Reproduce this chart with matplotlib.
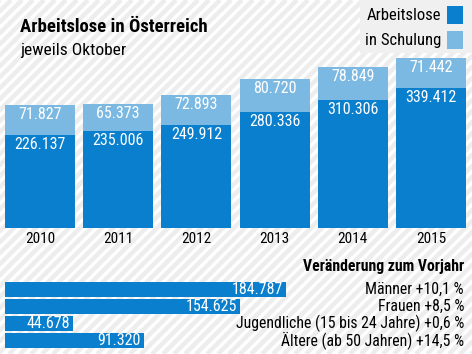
import matplotlib
matplotlib.use("Agg")
import matplotlib.pyplot as plt
import matplotlib.transforms as mtrans
from matplotlib.patches import Rectangle

# --------------------------------------------
# Daten
# --------------------------------------------
jahre = ["2010", "2011", "2012", "2013", "2014", "2015"]
arbeitslose = [226137, 235006, 249912, 280336, 310306, 339412]
schulung = [71827, 65373, 72893, 80720, 78849, 71442]

gruppen = ["Männer +10,1 %", "Frauen +8,5 %",
           "Jugendliche (15 bis 24 Jahre) +0,6 %", "Ältere (ab 50 Jahren) +14,5 %"]
gruppen_werte = [184787, 154625, 44678, 91320]

# --------------------------------------------
# Stil
# --------------------------------------------
plt.rcParams['font.family'] = ['Roboto Condensed', 'Roboto', 'DejaVu Sans']

dunkel = '#0a7fcd'
hell = '#7cb9e2'


def fmt(v):
    # Tausenderpunkt
    return f"{v:,}".replace(",", ".")


W, H = 472, 354
fig = plt.figure(figsize=(W / 100, H / 100), dpi=100)
fig.patch.set_facecolor('white')

# Hintergrund mit Streifen (Pixelkoordinaten)
bg = fig.add_axes([0, 0, 1, 1])
bg.set_axis_off()
bg.set_xlim(0, W)
bg.set_ylim(H, 0)
for s in range(-H, W + H, 11):
    bg.plot([s, s + H], [H, 0], color='#ededed', linewidth=3.2,
            solid_capstyle='butt', zorder=0)
# Legendenkasten
bg.add_patch(Rectangle((360, 0), W - 360, 53, facecolor='#f0f0f0',
                       edgecolor='none', zorder=1))
bg.add_patch(Rectangle((447, 6), 16, 18, facecolor=dunkel, edgecolor='none', zorder=2))
bg.add_patch(Rectangle((447, 31), 16, 18, facecolor=hell, edgecolor='none', zorder=2))

# Titel
fig.text(20 / W, 1 - 27 / H, "Arbeitslose in Österreich", fontsize=13.5,
         fontweight='bold', va='center', ha='left')
fig.text(20 / W, 1 - 50 / H, "jeweils Oktober", fontsize=12.5, va='center', ha='left')

# Legende
fig.text(441 / W, 1 - 15 / H, "Arbeitslose", fontsize=12, ha='right', va='center')
fig.text(441 / W, 1 - 40 / H, "in Schulung", fontsize=12, ha='right', va='center')

# --------------------------------------------
# Säulendiagramm
# --------------------------------------------
px_per = 0.0004128
ax = fig.add_axes([0, (H - 228) / H, 1, 228 / H])
ax.set_axis_off()
ax.patch.set_alpha(0)
step = 78.2
x = list(range(len(jahre)))
ax.set_xlim(-40 / step, (W - 40) / step)
ax.set_ylim(0, 228 / px_per)
ax.bar(x, arbeitslose, width=70 / step, color=dunkel, linewidth=0)
ax.bar(x, schulung, bottom=arbeitslose, width=70 / step, color=hell, linewidth=0)
for i in x:
    ax.annotate(fmt(arbeitslose[i]), (i, arbeitslose[i]), xytext=(0, -1.5),
                textcoords='offset points', ha='center', va='top',
                color='white', fontsize=11.5)
    ax.annotate(fmt(schulung[i]), (i, arbeitslose[i] + schulung[i]), xytext=(0, -1.5),
                textcoords='offset points', ha='center', va='top',
                color='white', fontsize=11.5)
    ax.annotate(jahre[i], (i, 0), xytext=(0, -3), textcoords='offset points',
                ha='center', va='top', color='black', fontsize=11)

# --------------------------------------------
# Balkendiagramm
# --------------------------------------------
fig.text(464 / W, 1 - 266 / H, "Veränderung zum Vorjahr", fontsize=11.3,
         fontweight='bold', ha='right', va='center')

bx = fig.add_axes([5 / W, (H - 349) / H, (W - 5) / W, 68 / H])
bx.set_axis_off()
bx.patch.set_alpha(0)
bscale = 0.00152
bx.set_xlim(0, (W - 5) / bscale)
bx.set_ylim(3.5, -0.5)
y = list(range(len(gruppen)))
bx.barh(y, gruppen_werte, height=15 / 17, color=dunkel, linewidth=0)
rechts = mtrans.blended_transform_factory(fig.transFigure, bx.transData)
for i in y:
    bx.annotate(fmt(gruppen_werte[i]), (gruppen_werte[i], i), xytext=(-2, 0),
                textcoords='offset points', ha='right', va='center',
                color='white', fontsize=11.5)
    fig.text(464 / W, i, gruppen[i], fontsize=11.3, ha='right', va='center',
             transform=rechts)

fig.savefig("out.png", dpi=100, facecolor=fig.get_facecolor())
